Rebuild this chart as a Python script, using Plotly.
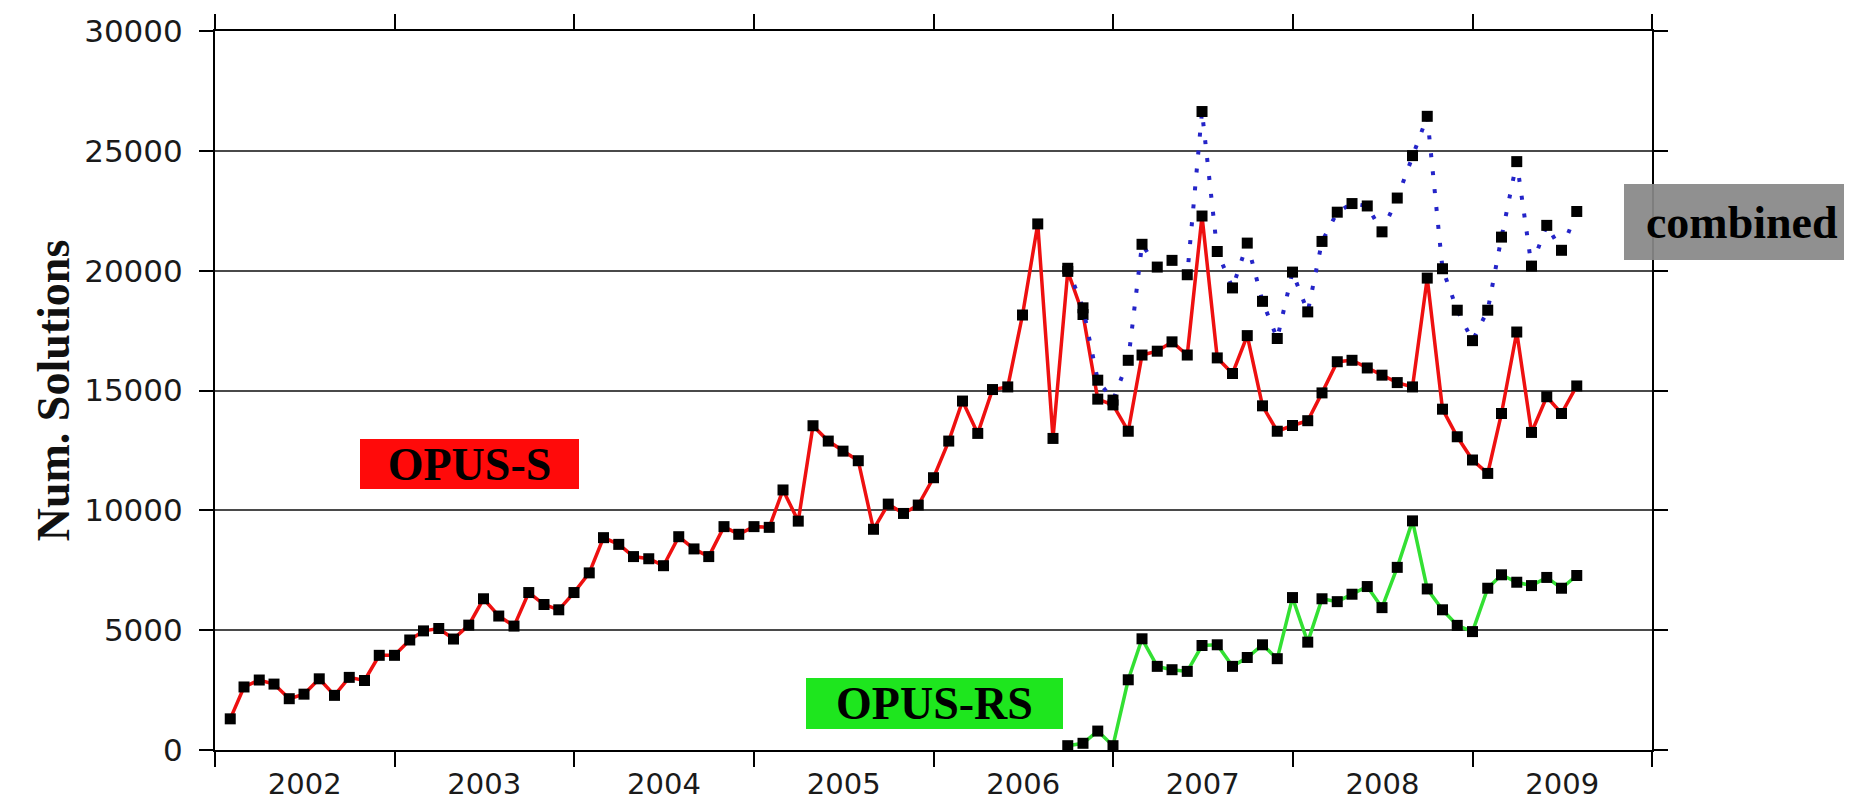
import plotly.graph_objects as go
import pandas as pd

# Monthly samples (first point Feb 2002 boundary), OPUS-S series
months_s = pd.date_range("2002-02-01", periods=91, freq="MS")
opus_s = [1300, 2630, 2920, 2750, 2140, 2330, 2970, 2280, 3030, 2900, 3950, 3950,
          4590, 4970, 5070, 4630, 5210, 6310, 5590, 5170, 6570, 6070, 5850, 6570,
          7390, 8860, 8580, 8070, 7980, 7690, 8900, 8390, 8070, 9320, 9000, 9320,
          9290, 10850, 9550, 13530, 12890, 12470, 12070, 9210, 10260, 9870, 10220, 11360,
          12890, 14560, 13210, 15040, 15150, 18150, 21950, 13000, 19970, 18170, 14640, 14400,
          13300, 16480, 16640, 17030, 16480, 22280, 16360, 15710, 17290, 14360, 13300, 13540,
          13740, 14900, 16200, 16260, 15940, 15640, 15330, 15150, 19690, 14220, 13070, 12100,
          11540, 14040, 17440, 13250, 14740, 14040, 15190]

# OPUS-RS and combined start later
months_rs = pd.date_range("2006-10-01", periods=35, freq="MS")
opus_rs = [180, 280, 790, 180, 2930, 4640, 3490, 3350, 3280, 4360, 4390, 3490,
           3860, 4390, 3810, 6360, 4500, 6310, 6190, 6500, 6820, 5940, 7620, 9560,
           6720, 5850, 5200, 4940, 6750, 7310, 7000, 6860, 7200, 6750, 7280]
combined = [20100, 18450, 15430, 14600, 16260, 21100, 20150, 20430, 19830, 26640, 20800, 19280,
            21150, 18720, 17170, 19940, 18280, 21220, 22440, 22800, 22700, 21620, 23030, 24800,
            26440, 20080, 18350, 17080, 18350, 21400, 24550, 20190, 21890, 20850, 22470]

y_ticks = [0, 5000, 10000, 15000, 20000, 25000, 30000]

W, H = 1852, 802
L, R, T, B = 207, 208, 23, 60
pw, ph = W - L - R, H - T - B

def px_to_paper(x, y):
    return (x - L) / pw, (H - B - y) / ph

sq = dict(symbol="square", size=11, color="black")

fig = go.Figure()
fig.add_trace(go.Scatter(x=months_s, y=opus_s, mode="lines+markers",
                         line=dict(color="#ee1010", width=3.5), marker=sq, name="OPUS-S"))
fig.add_trace(go.Scatter(x=months_rs, y=opus_rs, mode="lines+markers",
                         line=dict(color="#33e033", width=3.5), marker=sq, name="OPUS-RS"))
fig.add_trace(go.Scatter(x=months_rs, y=combined, mode="lines+markers",
                         line=dict(color="#2424c8", width=4, dash="4px,14px"),
                         marker=sq, name="combined"))

fig.update_layout(
    width=W, height=H,
    margin=dict(l=L, r=R, t=T, b=B, autoexpand=False),
    paper_bgcolor="white", plot_bgcolor="white",
    showlegend=False,
    font=dict(family="DejaVu Sans", color="#222"),
)
fig.update_xaxes(
    type="date", range=["2002-01-01", "2010-01-01"],
    tick0="2002-01-01", dtick="M12", ticklabelmode="period", tickformat="%Y",
    ticks="outside", ticklen=15, tickwidth=2, tickcolor="black",
    showline=True, linecolor="black", linewidth=2, mirror="ticks",
    showgrid=False, zeroline=False,
    ticklabelstandoff=-8,
    tickfont=dict(family="DejaVu Sans", size=29, color="#1a1a1a"),
)
fig.update_yaxes(
    range=[0, 30000], tickvals=y_ticks, ticktext=[str(v) for v in y_ticks],
    ticks="outside", ticklen=14, tickwidth=2, tickcolor="black",
    showline=True, linecolor="black", linewidth=2, mirror="ticks",
    showgrid=True, gridcolor="#4a4a4a", gridwidth=2, zeroline=False,
    ticklabelstandoff=10,
    tickfont=dict(family="DejaVu Sans", size=31, color="#1a1a1a"),
    title=dict(text="<b>Num. Solutions</b>", standoff=0,
               font=dict(family="Liberation Serif", size=46, color="#111")),
    automargin=False,
)

labels = [
    ("<b>OPUS-S</b>", 461, 456, 219, 50, "#ff0a0a"),
    ("<b>OPUS-RS</b>", 926, 695, 257, 51, "#1ee61e"),
    ("<b>combined</b>", 1734, 214, 236, 76, "rgba(136,136,136,0.93)"),
]
for text, cx, cy, w, h, bg in labels:
    xp, yp = px_to_paper(cx, cy)
    fig.add_annotation(x=xp, y=yp, xref="paper", yref="paper", text=text,
                       showarrow=False, xanchor="center", yanchor="middle",
                       width=w, height=h, bgcolor=bg, borderpad=0, borderwidth=0,
                       font=dict(family="Liberation Serif", size=46, color="black"))

fig.write_html("out.html")
